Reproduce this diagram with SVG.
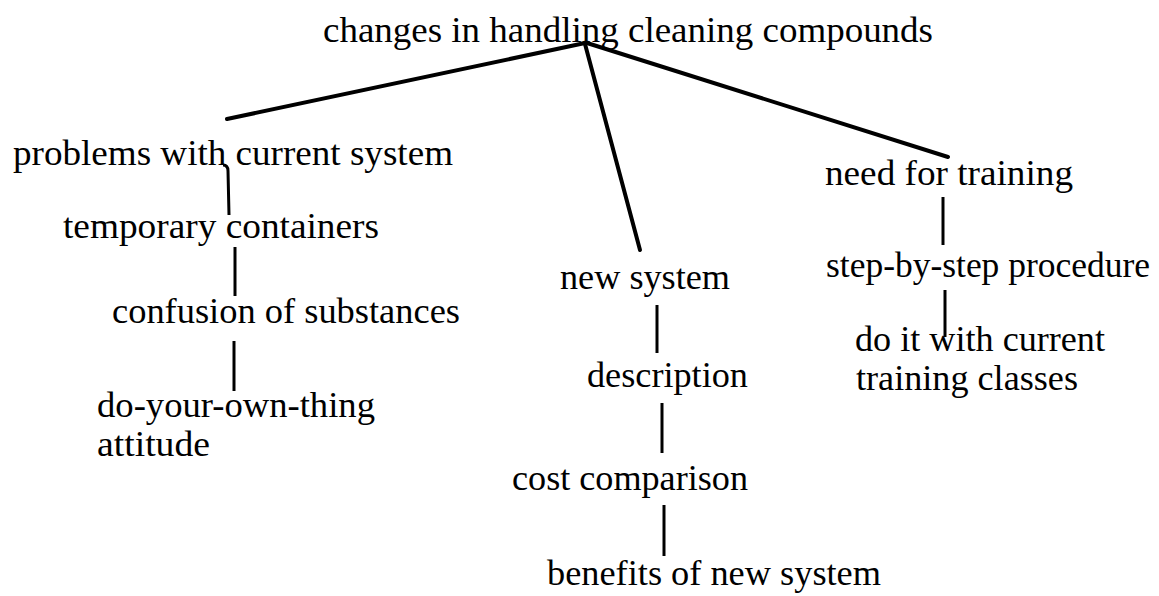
<svg xmlns="http://www.w3.org/2000/svg" width="1159" height="596" viewBox="0 0 1159 596">
<style>
  text { font-family: "Liberation Serif", "Times New Roman", serif; font-size: 35px; fill: #000; }
  .diag { stroke: #000; stroke-width: 4; stroke-linecap: round; fill: none; }
  .vert { stroke: #000; stroke-width: 3; stroke-linecap: butt; fill: none; }
</style>
<rect width="1159" height="596" fill="#fff"/>
<g id="connectors">
  <line class="diag" x1="585" y1="43" x2="227" y2="119"/>
  <line class="diag" x1="585" y1="44" x2="640" y2="250"/>
  <line class="diag" x1="587" y1="43" x2="948" y2="157"/>
  <path class="vert" d="M223,165 Q228,165 228,171 L229,215"/>
  <line class="vert" x1="235" y1="247" x2="235" y2="296"/>
  <line class="vert" x1="234" y1="341" x2="234" y2="391"/>
  <line class="vert" x1="657" y1="305" x2="657" y2="353"/>
  <line class="vert" x1="662" y1="403" x2="662" y2="453"/>
  <line class="vert" x1="664" y1="505" x2="664" y2="556"/>
  <line class="vert" x1="943" y1="197" x2="943" y2="245"/>
  <line class="vert" x1="945" y1="290" x2="945" y2="337"/>
</g>
<g id="root"><text x="323" y="42" textLength="610" lengthAdjust="spacingAndGlyphs">changes in handling cleaning compounds</text></g>
<g id="problems"><text x="13" y="165" textLength="440" lengthAdjust="spacingAndGlyphs">problems with current system</text></g>
<g id="temporary"><text x="63" y="238" textLength="316" lengthAdjust="spacingAndGlyphs">temporary containers</text></g>
<g id="confusion"><text x="112" y="323" textLength="348" lengthAdjust="spacingAndGlyphs">confusion of substances</text></g>
<g id="attitude">
  <text x="97" y="417" textLength="278" lengthAdjust="spacingAndGlyphs">do-your-own-thing</text>
  <text x="97" y="456" textLength="113" lengthAdjust="spacingAndGlyphs">attitude</text>
</g>
<g id="newsystem"><text x="560" y="289" textLength="170" lengthAdjust="spacingAndGlyphs">new system</text></g>
<g id="description"><text x="587" y="387" textLength="161" lengthAdjust="spacingAndGlyphs">description</text></g>
<g id="cost"><text x="512" y="490" textLength="236" lengthAdjust="spacingAndGlyphs">cost comparison</text></g>
<g id="benefits"><text x="547" y="585" textLength="334" lengthAdjust="spacingAndGlyphs">benefits of new system</text></g>
<g id="training"><text x="825" y="185" textLength="248" lengthAdjust="spacingAndGlyphs">need for training</text></g>
<g id="procedure"><text x="826" y="277" textLength="324" lengthAdjust="spacingAndGlyphs">step-by-step procedure</text></g>
<g id="classes">
  <text x="855" y="351" textLength="250" lengthAdjust="spacingAndGlyphs">do it with current</text>
  <text x="856" y="390" textLength="222" lengthAdjust="spacingAndGlyphs">training classes</text>
</g>
</svg>
